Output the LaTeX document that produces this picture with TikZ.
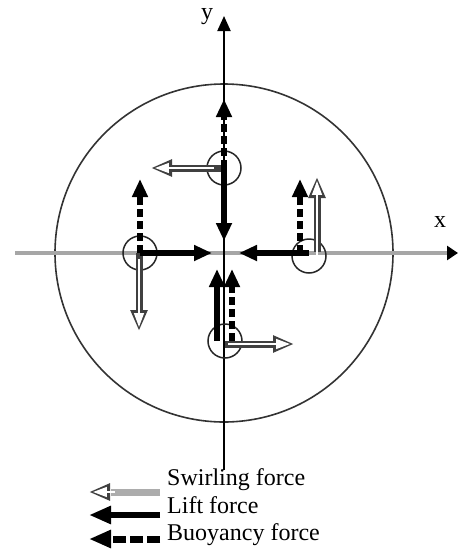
\documentclass[tikz,border=0pt]{standalone}
\usepackage{fontspec}
\setmainfont{Liberation Serif}
\usetikzlibrary{arrows.meta}
\begin{document}
\begin{tikzpicture}[x=1pt,y=-1pt,
  axisgray/.style={draw=gray!70, line width=3.5pt},
  particle/.style={circle, draw=black!85, line width=1.5pt, minimum size=34pt, inner sep=0pt},
  lift/.style={draw=black, line width=5.5pt, -{Triangle[length=18pt,width=15pt]}},
  buoy/.style={lift, dash pattern=on 8pt off 4pt},
  swirlout/.style={draw=gray!50!black, line width=7pt, -{Triangle[length=21pt,width=16pt]}},
  swirlin/.style={draw=white, line width=2.4pt, shorten >=3.8pt, -{Triangle[length=14pt,width=9.5pt]}},
  lbl/.style={font=\fontsize{24}{26}\selectfont, inner sep=0pt, anchor=base west}
]
\useasboundingbox (0,0) rectangle (458,552);

% big circle
\node[circle, draw=black!80, line width=1.6pt, minimum size=338pt, inner sep=0pt] (big) at (224,253) {};

% axes
\coordinate (xa0) at (15,253);
\coordinate (xa1) at (458,253);
\coordinate (ya0) at (224,470);
\coordinate (ya1) at (224,16);
\draw[axisgray, -{Triangle[length=11pt,width=14pt,color=black]}] (xa0) -- (xa1);
\draw[black, line width=2pt, -{Triangle[length=15pt,width=13pt]}] (ya0) -- (ya1);
\node[lbl] (ylab) at (201,19) {y};
\node[lbl] (xlab) at (434,227) {x};

% particles
\node[particle] (p1) at (224,168) {};
\node[particle] (p2) at (140,253) {};
\node[particle] (p3) at (309,256) {};
\node[particle] (p4) at (225,341) {};

% top particle
\coordinate (s1) at (151,168);
\coordinate (l1) at (224,241);
\coordinate (b1) at (224,99);
\draw[swirlout] (p1.center) -- (s1);
\draw[swirlin] ([xshift=-10pt]p1.center) -- (s1);
\draw[lift] (p1.center) -- (l1);
\draw[buoy] (p1.center) -- (b1);

% left particle
\coordinate (s2) at (139,331);
\coordinate (l2) at (212,253);
\coordinate (b2) at (140,179);
\draw[swirlout] ([xshift=-1pt]p2.center) -- (s2);
\draw[swirlin] ([xshift=-1pt,yshift=-6pt]p2.center) -- (s2);
\draw[lift] (p2.center) -- (l2);
\draw[buoy] (p2.center) -- (b2);

% right particle
\coordinate (s3) at (317,177);
\coordinate (l3) at (239,253);
\coordinate (b3) at (300,179);
\draw[lift] ([yshift=3pt]p3.center) -- (l3);
\draw[buoy] ([xshift=-9pt,yshift=3pt]p3.center) -- (b3);
\draw[swirlout] ([xshift=8pt,yshift=4pt]p3.center) -- (s3);
\draw[swirlin] ([xshift=8pt,yshift=1pt]p3.center) -- (s3);

% bottom particle
\coordinate (l4) at (217,269);
\coordinate (b4) at (232,269);
\coordinate (s4) at (294,344);
\draw[lift] ([xshift=-8pt]p4.center) -- (l4);
\draw[buoy] ([xshift=7pt]p4.center) -- (b4);
\draw[swirlout] ([yshift=-3pt]p4.center) -- (s4);
\draw[swirlin] ([xshift=3pt,yshift=-3pt]p4.center) -- (s4);

% legend
\coordinate (ls0) at (160,492);
\coordinate (ls1) at (89,492);
\coordinate (ll0) at (160,515);
\coordinate (ll1) at (89,515);
\coordinate (lb0) at (160,539);
\coordinate (lb1) at (89,539);
\draw[draw=gray!65, line width=7pt] (ls0) -- ([xshift=-49pt]ls0);
\draw[swirlout] ([xshift=-50pt]ls0) -- (ls1);
\draw[swirlin] ([xshift=-45pt]ls0) -- (ls1);
\draw[lift, line width=6pt, -{Triangle[length=22pt,width=17pt]}] (ll0) -- (ll1);
\draw[lift, line width=7pt, dash pattern=on 13pt off 4pt, -{Triangle[length=22pt,width=17pt]}] (lb0) -- (lb1);
\node[lbl] (t1) at (167,485) {Swirling force};
\node[lbl] (t2) at (167,513) {Lift force};
\node[lbl] (t3) at (167,540) {Buoyancy force};
\end{tikzpicture}
\end{document}
